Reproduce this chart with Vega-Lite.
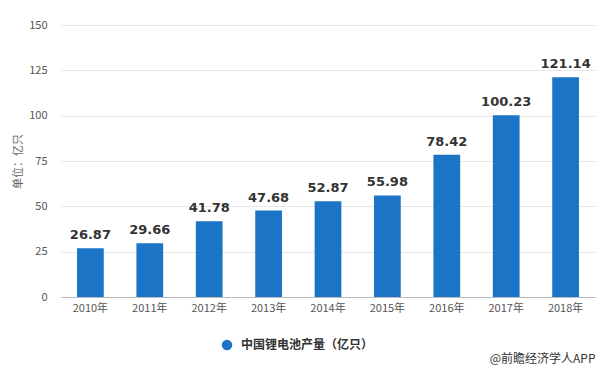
{
  "$schema": "https://vega.github.io/schema/vega-lite/v6.json",
  "width": 534,
  "height": 272,
  "autosize": {"type": "none"},
  "padding": {"left": 61, "top": 25, "right": 17, "bottom": 80},
  "background": "white",
  "data": {"values": [
    {"year": "2010年", "v": 26.87, "s": "中国锂电池产量（亿只）"},
    {"year": "2011年", "v": 29.66, "s": "中国锂电池产量（亿只）"},
    {"year": "2012年", "v": 41.78, "s": "中国锂电池产量（亿只）"},
    {"year": "2013年", "v": 47.68, "s": "中国锂电池产量（亿只）"},
    {"year": "2014年", "v": 52.87, "s": "中国锂电池产量（亿只）"},
    {"year": "2015年", "v": 55.98, "s": "中国锂电池产量（亿只）"},
    {"year": "2016年", "v": 78.42, "s": "中国锂电池产量（亿只）"},
    {"year": "2017年", "v": 100.23, "s": "中国锂电池产量（亿只）"},
    {"year": "2018年", "v": 121.14, "s": "中国锂电池产量（亿只）"}
  ]},
  "config": {
    "view": {"stroke": null},
    "font": "Noto Sans CJK SC"
  },
  "encoding": {
    "x": {
      "field": "year", "type": "nominal", "sort": null,
      "scale": {"paddingInner": 0.55, "paddingOuter": 0.27},
      "axis": {"title": "@前瞻经济学人APP", "titleAnchor": "end", "titleAlign": "right",
               "titlePadding": 40, "titleFontSize": 12, "titleFontWeight": "normal", "titleColor": "#333333",
               "labelAngle": 0, "labelFontSize": 11, "labelColor": "#555555",
               "domainColor": "#bbbbbb", "ticks": false, "labelPadding": 5}
    },
    "y": {
      "field": "v", "type": "quantitative",
      "scale": {"domain": [0, 150]},
      "axis": {"values": [0, 25, 50, 75, 100, 125, 150], "title": "单位：亿只", "titleFontSize": 11,
               "titleFontWeight": "normal", "titleColor": "#666666", "titlePadding": 5,
               "labelFontSize": 11, "labelColor": "#555555", "labelPadding": 14,
               "domain": false, "ticks": false, "gridColor": "#e6e6e6"}
    }
  },
  "layer": [
    {
      "mark": {"type": "bar", "color": "#1c74c7"},
      "encoding": {
        "color": {
          "field": "s", "type": "nominal",
          "scale": {"range": ["#1c74c7"]},
          "legend": {"title": null, "orient": "none", "legendX": 160, "legendY": 314,
                     "symbolType": "circle", "symbolSize": 110, "labelFontSize": 12,
                     "labelFontWeight": "bold", "labelColor": "#333333", "labelOffset": 8}
        }
      }
    },
    {
      "mark": {"type": "text", "dy": -6, "baseline": "bottom", "fontSize": 13, "fontWeight": "bold", "color": "#333333", "font": "DejaVu Sans"},
      "encoding": {"text": {"field": "v", "type": "quantitative", "format": ".2f"}}
    }
  ]
}
